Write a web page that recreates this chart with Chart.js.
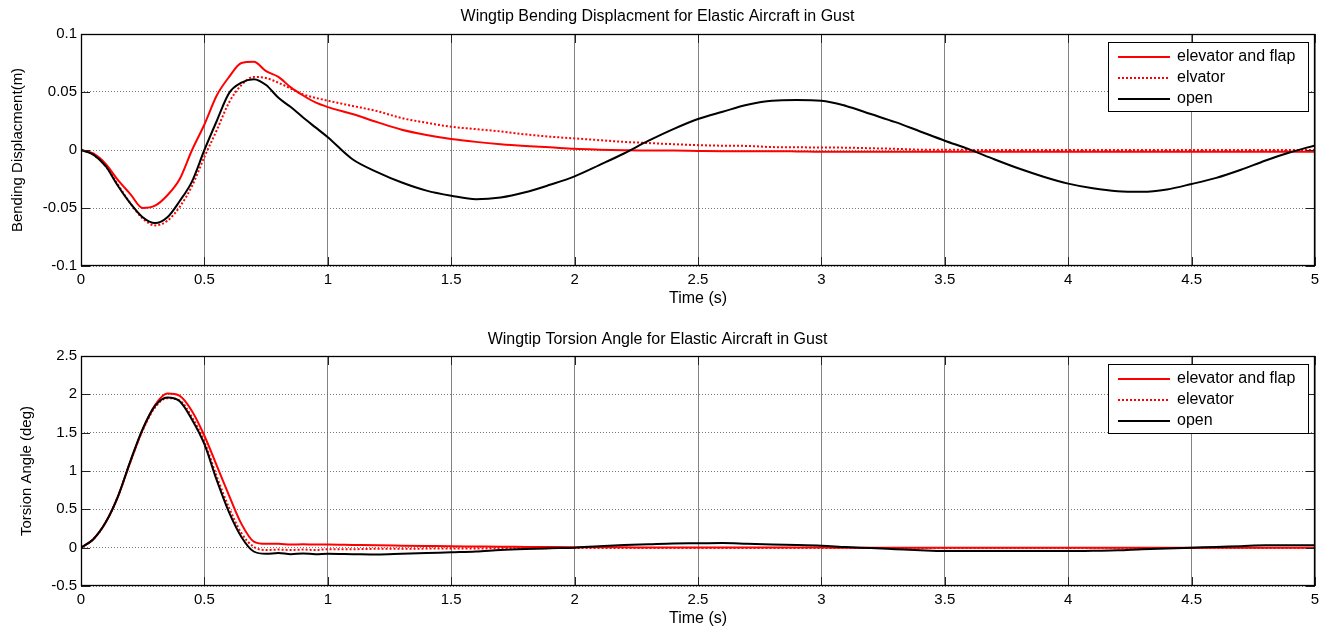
<!DOCTYPE html>
<html lang="en">

<head>
    <meta charset="UTF-8">
    <title>Wingtip Response for Elastic Aircraft in Gust</title>
    <script src="https://cdn.jsdelivr.net/npm/chart.js"></script>
    <style>
        html, body { margin: 0; padding: 0; background: #fff; }
        #wrap { width: 1330px; height: 630px; }
        canvas { display: block; }
    </style>
</head>

<body>
    <div id="wrap">
        <canvas id="bendChart" width="1330" height="315"></canvas>
        <canvas id="torsionChart" width="1330" height="315"></canvas>
    </div>

    <script>
        // sample times (s): 0.05 s steps up to 1 s, then 0.1 s steps
        var time = [0, 0.05, 0.1, 0.15, 0.2, 0.25, 0.3, 0.35, 0.4, 0.45, 0.5, 0.55, 0.6, 0.65, 0.7, 0.75, 0.8, 0.85, 0.9, 0.95, 1.0,
            1.1, 1.2, 1.3, 1.4, 1.5, 1.6, 1.7, 1.8, 1.9, 2.0, 2.1, 2.2, 2.3, 2.4, 2.5, 2.6, 2.7, 2.8, 2.9, 3.0,
            3.1, 3.2, 3.3, 3.4, 3.5, 3.6, 3.7, 3.8, 3.9, 4.0, 4.1, 4.2, 4.3, 4.4, 4.5, 4.6, 4.7, 4.8, 4.9, 5.0];

        // legend entries (the upper plot spells the second one differently)
        var bendNames = ['elevator and flap', 'elvator', 'open'];
        var torNames = ['elevator and flap', 'elevator', 'open'];

        // wingtip bending displacement (m)
        var bendFlap = [0, -0.003, -0.012, -0.026, -0.038, -0.050, -0.048, -0.039, -0.025, 0.000, 0.022, 0.047, 0.063, 0.075, 0.076, 0.068, 0.063, 0.054, 0.047, 0.041, 0.037,
            0.031, 0.024, 0.0175, 0.013, 0.0095, 0.007, 0.005, 0.0035, 0.0023, 0.001, 0.0003, -0.0002, -0.0005, -0.0005, -0.0008, -0.001, -0.001, -0.001, -0.0012, -0.0015,
            -0.0015, -0.0015, -0.0015, -0.0015, -0.0015, -0.0015, -0.0015, -0.0015, -0.0015, -0.0015, -0.0015, -0.0015, -0.0015, -0.0015, -0.0015, -0.0015, -0.0015, -0.0015, -0.0015, -0.0015];
        var bendElev = [0, -0.004, -0.014, -0.030, -0.046, -0.059, -0.065, -0.061, -0.049, -0.031, -0.006, 0.017, 0.041, 0.056, 0.063, 0.062, 0.058, 0.053, 0.048, 0.045, 0.0425,
            0.038, 0.0335, 0.0275, 0.0235, 0.020, 0.018, 0.016, 0.0135, 0.0115, 0.010, 0.0085, 0.007, 0.006, 0.005, 0.0042, 0.0037, 0.0035, 0.0025, 0.0023, 0.0022,
            0.002, 0.0015, 0.001, 0.0003, 0.0002, 0.0001, 0, 0, 0, 0, 0, 0, 0, 0, 0, 0, 0, 0, 0, 0];
        var bendOpen = [0, -0.004, -0.014, -0.031, -0.046, -0.058, -0.063, -0.058, -0.044, -0.027, 0.000, 0.025, 0.049, 0.058, 0.061, 0.056, 0.045, 0.037, 0.028, 0.0195, 0.011,
            -0.008, -0.019, -0.028, -0.035, -0.0394, -0.0425, -0.041, -0.0365, -0.030, -0.0227, -0.013, -0.003, 0.008, 0.018, 0.0267, 0.033, 0.039, 0.0425, 0.043, 0.0425,
            0.038, 0.031, 0.024, 0.016, 0.008, 0.0005, -0.008, -0.016, -0.023, -0.029, -0.033, -0.0355, -0.036, -0.034, -0.0293, -0.024, -0.017, -0.009, -0.002, 0.004];

        // wingtip torsion angle (deg)
        var torFlap = [0, 0.11, 0.33, 0.67, 1.12, 1.54, 1.86, 2.01, 1.98, 1.78, 1.46, 1.07, 0.68, 0.31, 0.08, 0.05, 0.05, 0.04, 0.045, 0.04, 0.04,
            0.035, 0.03, 0.026, 0.022, 0.018, 0.015, 0.012, 0.01, 0.008, 0.006, 0.005, 0.004, 0.003, 0.003, 0.002, 0.002, 0.002, 0.001, 0.001, 0.001,
            0, 0, 0, 0, 0, 0, 0, 0, 0, 0, 0, 0, 0, 0, 0, 0, 0, 0, 0, 0];
        var torElev = [0, 0.11, 0.33, 0.67, 1.12, 1.53, 1.83, 1.95, 1.92, 1.70, 1.38, 0.93, 0.52, 0.19, 0.01, -0.03, -0.025, -0.03, -0.025, -0.03, -0.02,
            -0.02, -0.015, -0.015, -0.012, -0.01, -0.01, -0.008, -0.008, -0.006, -0.005, -0.005, -0.005, -0.005, -0.005, -0.005, -0.005, -0.005, -0.005, -0.005, -0.005,
            -0.004, -0.004, -0.004, -0.004, -0.004, -0.004, -0.004, -0.004, -0.004, -0.004, -0.003, -0.003, -0.003, -0.003, -0.003, -0.003, -0.003, -0.003, -0.003, -0.003];
        var torOpen = [0, 0.11, 0.33, 0.67, 1.13, 1.55, 1.85, 1.96, 1.91, 1.67, 1.35, 0.88, 0.46, 0.14, -0.05, -0.08, -0.07, -0.085, -0.075, -0.085, -0.08,
            -0.085, -0.09, -0.08, -0.07, -0.06, -0.05, -0.03, -0.017, -0.008, 0.0, 0.02, 0.035, 0.045, 0.055, 0.057, 0.06, 0.05, 0.04, 0.035, 0.026,
            0.008, -0.005, -0.02, -0.035, -0.045, -0.045, -0.045, -0.045, -0.045, -0.045, -0.04, -0.035, -0.02, -0.01, 0.0, 0.01, 0.02, 0.03, 0.03, 0.03];

        // tick values
        var timeTicks = [0, 0.5, 1, 1.5, 2, 2.5, 3, 3.5, 4, 4.5, 5];
        var bendTicks = [-0.1, -0.05, 0, 0.05, 0.1];
        var torTicks = [-0.5, 0, 0.5, 1, 1.5, 2, 2.5];

        var FONT = '"Liberation Sans", Arial, Helvetica, sans-serif';
        Chart.defaults.font.family = FONT;
        Chart.defaults.color = '#000';

        // closed black box with inward tick marks, like a MATLAB axes
        var axesBox = {
            id: 'axesBox',
            afterDatasetsDraw: function (chart) {
                var ctx = chart.ctx, a = chart.chartArea;
                var xs = chart.scales.x, ys = chart.scales.y, len = 9;
                ctx.save();
                ctx.strokeStyle = '#222';
                ctx.lineWidth = 1;
                ctx.beginPath();
                xs.ticks.forEach(function (t) {
                    var px = Math.round(xs.getPixelForValue(t.value)) + 0.5;
                    ctx.moveTo(px, a.bottom); ctx.lineTo(px, a.bottom - len);
                    ctx.moveTo(px, a.top); ctx.lineTo(px, a.top + len);
                });
                ys.ticks.forEach(function (t) {
                    var py = Math.round(ys.getPixelForValue(t.value)) + 0.5;
                    ctx.moveTo(a.left, py); ctx.lineTo(a.left + len, py);
                    ctx.moveTo(a.right, py); ctx.lineTo(a.right - len, py);
                });
                ctx.stroke();
                ctx.strokeStyle = '#000';
                ctx.lineWidth = 1.3;
                ctx.strokeRect(Math.round(a.left) + 0.5, Math.round(a.top) + 0.5,
                    Math.round(a.right - a.left) - 1, Math.round(a.bottom - a.top) - 1);
                ctx.restore();
            }
        };

        // boxed legend in the upper right corner of the plot area
        var boxLegend = {
            id: 'boxLegend',
            afterDraw: function (chart) {
                var ctx = chart.ctx, a = chart.chartArea;
                var w = 200, h = 69;
                var x = Math.round(a.right) - 7 - w, y = Math.round(a.top) + 8;
                ctx.save();
                ctx.fillStyle = '#fff';
                ctx.fillRect(x, y, w, h);
                ctx.strokeStyle = '#000';
                ctx.lineWidth = 1;
                ctx.strokeRect(x + 0.5, y + 0.5, w, h);
                ctx.font = '16px ' + FONT;
                ctx.textBaseline = 'middle';
                ctx.textAlign = 'left';
                chart.data.datasets.forEach(function (ds, i) {
                    var ly = y + 15 + i * 21;
                    ctx.beginPath();
                    ctx.strokeStyle = ds.borderColor;
                    ctx.lineWidth = ds.borderWidth;
                    ctx.setLineDash(ds.borderDash || []);
                    ctx.moveTo(x + 10, ly);
                    ctx.lineTo(x + 62, ly);
                    ctx.stroke();
                    ctx.setLineDash([]);
                    ctx.fillStyle = '#000';
                    ctx.fillText(ds.label, x + 69, ly);
                });
                ctx.restore();
            }
        };

        function toPoints(values) {
            return time.map(function (t, i) { return { x: t, y: values[i] }; });
        }

        function makeDatasets(names, flap, elev, open) {
            var base = { pointRadius: 0, borderWidth: 2, cubicInterpolationMode: 'monotone', fill: false };
            return [
                Object.assign({ label: names[0], data: toPoints(flap), borderColor: '#ff0000', order: 1 }, base),
                Object.assign({ label: names[1], data: toPoints(elev), borderColor: '#ff0000', borderDash: [2, 2], order: 2 }, base),
                Object.assign({ label: names[2], data: toPoints(open), borderColor: '#000000', order: 0 }, base)
            ];
        }

        function makeOptions(cfg) {
            return {
                responsive: false,
                animation: false,
                layout: { padding: { left: 0, right: 15, top: 0, bottom: 0 } },
                plugins: {
                    legend: { display: false },
                    tooltip: { enabled: false },
                    title: {
                        display: true,
                        text: cfg.title,
                        color: '#000',
                        font: { size: 16, weight: 'normal' },
                        padding: cfg.titlePad
                    }
                },
                scales: {
                    x: {
                        type: 'linear',
                        min: 0,
                        max: 5,
                        afterBuildTicks: function (s) { s.ticks = timeTicks.map(function (v) { return { value: v }; }); },
                        afterFit: function (s) { s.height = cfg.xHeight; },
                        ticks: {
                            padding: 5, color: '#000', font: { size: 15 }, maxRotation: 0, autoSkip: false,
                            callback: function (v) { return String(v); }
                        },
                        grid: { color: 'rgba(90,90,90,0.75)', drawTicks: false },
                        border: { display: false },
                        title: {
                            display: true, text: 'Time (s)', color: '#000', font: { size: 16 },
                            padding: { top: 0, bottom: cfg.xTitlePad }
                        }
                    },
                    y: {
                        type: 'linear',
                        min: cfg.yTicks[0],
                        max: cfg.yTicks[cfg.yTicks.length - 1],
                        afterBuildTicks: function (s) { s.ticks = cfg.yTicks.map(function (v) { return { value: v }; }); },
                        afterFit: function (s) { s.width = 81; },
                        ticks: {
                            padding: 4, color: '#000', font: { size: 15 }, autoSkip: false,
                            callback: function (v) { return String(v); }
                        },
                        grid: { color: 'rgba(90,90,90,0.8)', drawTicks: false },
                        border: { display: false, dash: [1, 2] },
                        title: {
                            display: true, text: cfg.yTitle, color: '#000', font: { size: 15 },
                            padding: { top: cfg.yTitlePad, bottom: 0 }
                        }
                    }
                }
            };
        }

        var bendChart = new Chart(document.getElementById('bendChart').getContext('2d'), {
            type: 'line',
            data: { datasets: makeDatasets(bendNames, bendFlap, bendElev, bendOpen) },
            options: makeOptions({
                title: 'Wingtip Bending Displacment for Elastic Aircraft in Gust',
                titlePad: { top: 7.4, bottom: 7.4 },
                xHeight: 49,
                xTitlePad: 6.4,
                yTicks: bendTicks,
                yTitle: 'Bending Displacment(m)',
                yTitlePad: 9.3
            }),
            plugins: [axesBox, boxLegend]
        });

        var torsionChart = new Chart(document.getElementById('torsionChart').getContext('2d'), {
            type: 'line',
            data: { datasets: makeDatasets(torNames, torFlap, torElev, torOpen) },
            options: makeOptions({
                title: 'Wingtip Torsion Angle for Elastic Aircraft in Gust',
                titlePad: { top: 15.4, bottom: 6.4 },
                xHeight: 44,
                xTitlePad: 1.4,
                yTicks: torTicks,
                yTitle: 'Torsion Angle (deg)',
                yTitlePad: 17.7
            }),
            plugins: [axesBox, boxLegend]
        });
    </script>
</body>

</html>
